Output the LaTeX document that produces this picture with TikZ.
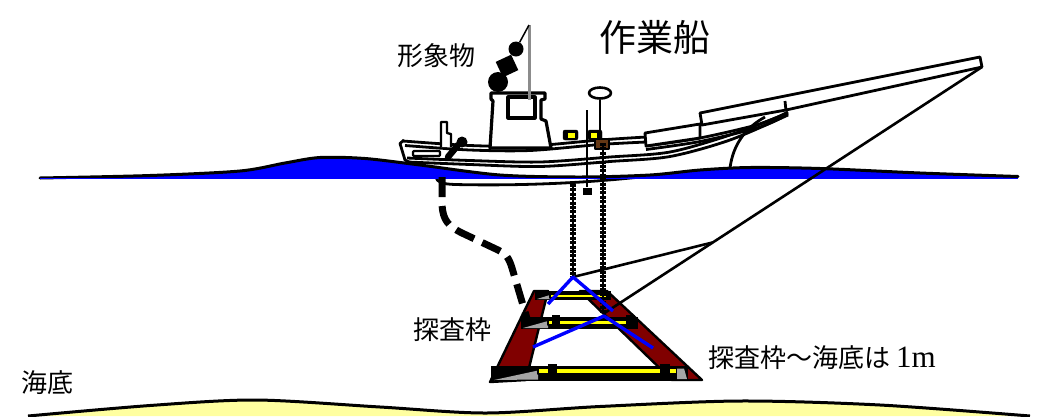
\documentclass[tikz,border=0pt]{standalone}
\usepackage{fontspec}
\newfontfamily\cjk{Noto Sans CJK JP}
\newfontfamily\serifL{Liberation Serif}
\usetikzlibrary{calc,shapes.geometric}
\definecolor{sea}{RGB}{0,0,255}
\definecolor{maroon}{RGB}{128,0,0}
\definecolor{sand}{RGB}{255,255,160}
\definecolor{tube}{RGB}{255,255,0}
\definecolor{wedge}{RGB}{165,165,165}
\definecolor{winch}{RGB}{100,55,20}
\definecolor{mastgray}{RGB}{140,140,140}
\begin{document}
\begin{tikzpicture}[x=1pt,y=-1pt,line join=round,
  hl/.style={draw=black,line width=2.8pt},
  thin/.style={draw=black,line width=2.3pt},
  chainbead/.style={draw=black,line width=5.4pt,dash pattern=on 3pt off 1.4pt},
  chaincore/.style={draw=black,line width=2pt},
  rope/.style={draw=black,line width=2.6pt},
  bridle/.style={draw=sea,line width=3.4pt},
  cable/.style={draw=black,line width=7pt,dash pattern=on 20pt off 9pt},
  lab/.style={font=\cjk\fontsize{26}{28}\selectfont,inner sep=0pt},
  ball/.style={circle,fill=black,inner sep=0pt},
]
\useasboundingbox (0,0) rectangle (1052,416);

% ---------- seabed ----------
\fill[sand] plot[smooth] coordinates {(28,416) (150,405.5) (256,400) (380,407) (486,413) (600,406.5) (740,401) (880,405) (1030,416)} -- cycle;
\draw[line width=3pt] plot[smooth] coordinates {(28,416) (150,405.5) (256,400) (380,407) (486,413) (600,406.5) (740,401) (880,405) (1030,416)};

% ---------- hull lines ----------
\draw[hl] plot[smooth] coordinates {(403,141) (470,145.5) (530,146) (600,140) (646,137)};
\draw[hl] plot[smooth] coordinates {(405,145.5) (470,150) (530,150.5) (600,144.5) (646,142)};
\draw[hl] plot[smooth] coordinates {(646,146) (700,138) (760,124) (788,112)};
\draw[hl] plot[smooth] coordinates {(646,149.5) (700,141.5) (760,127) (788,114)};
\draw[hl] plot[smooth] coordinates {(407,158) (470,160.5) (540,162) (610,157) (670,152) (730,135) (788,113)};
\draw[hl] plot[smooth] coordinates {(408,162) (470,164.5) (540,166.5) (610,161.5) (670,156.5) (730,140) (788,115)};
% stern
\draw[hl] (404,140) -- (400,143.5) -- (405,160) -- (409,162);
\draw[thin,fill=white,rounded corners=1pt] (413,151) rectangle (440,156);
\draw[thin,fill=white] (441,147) -- (441,122) -- (447,122) -- (447,133) -- (451,134) -- (451,147);
\draw[line width=6.5pt,line cap=round] (448,157) -- (458,145);
\fill (462,142) circle (5.5pt);
% forecastle box
\draw[hl,fill=white] (645,133) -- (700,124) -- (700,138) -- (646,146) -- cycle;
% bow bulwark strip
\draw[hl,fill=white] (700,113) -- (980,57) -- (982,67) -- (786,110) -- (702,125) -- cycle;
\draw[hl] (785,101) -- (786,111);
% bow flare
\draw[hl] (765,117) .. controls (745,128) and (733,145) .. (730,168);
% keel under water
\draw[hl] (436,177) .. controls (437,182) and (441,184) .. (455,184.5) .. controls (520,186) and (585,183) .. (640,177);

% wheelhouse
\draw[line width=3.2pt,fill=white] (490,148) -- (493,101) -- (491,99) -- (491,93) -- (545,93) -- (545,99) -- (541,100) -- (541,119) -- (546,121) -- (551,148) -- cycle;
\draw[line width=3.2pt,fill=white] (508,97) rectangle (535,118);

% mast and day shapes
\coordinate (masttop) at (529,25);
\coordinate (mastfoot) at (529,100);
\draw[mastgray,line width=3pt] (masttop) -- (mastfoot);
\node[ball,minimum size=15pt] (balltop) at (516,49) {};
\draw[line width=1.5pt] (masttop) -- (balltop);
\node[fill=black,minimum size=17pt,inner sep=0pt,rotate=25] (diamond) at (507,66) {};
\node[ball,minimum size=20pt] (ballbottom) at (498,82) {};

% pole with transducer
\coordinate (poletop) at (587,110);
\node[fill=black,minimum width=9pt,minimum height=7pt,inner sep=0pt] (sensor) at (587,191) {};
\draw[thin] (poletop) -- (sensor);

% small mast with ring
\node[draw=black,line width=2.6pt,fill=white,ellipse,minimum width=22pt,minimum height=11pt,inner sep=0pt] (ring) at (600,93) {};
\coordinate (ringfoot) at (600,134);
\draw[hl] (ring) -- (ringfoot);

% lights and winch
\draw[fill=black,rounded corners=2pt] (563,130) rectangle (578,140);
\fill[tube] (567.5,133) rectangle (574.5,137.5);
\draw[fill=black,rounded corners=2pt] (588,130) rectangle (602,140);
\fill[tube] (591,133) rectangle (597,137.5);
\draw[fill=winch,line width=1.4pt] (595,139) rectangle (609,149);

% ---------- water ----------
\fill[sea] plot[smooth] coordinates {(40,178) (150,175.5) (240,171) (285,163) (320,157.5) (365,158.5) (420,165) (500,175) (580,177) (650,175) (700,170) (750,167.5) (820,168.5) (920,173) (1018,176.5)} -- (1018,178) -- (40,178) -- cycle;
\draw[line width=3pt,line cap=round] plot[smooth] coordinates {(40,178) (150,175.5) (240,171) (285,163) (320,157.5) (365,158.5) (420,165) (500,175) (580,177) (650,175) (700,170) (750,167.5) (820,168.5) (920,173) (1018,176.5)};
\draw[sea,line width=1.4pt] (40,178.4) -- (1018,178.4);

% ---------- survey frame ----------
\draw[fill=maroon,line width=2.4pt] (534,291) -- (548,291) -- (526,380) -- (490,382) -- cycle;
\draw[fill=maroon,line width=2.4pt] (580,291) -- (607,291) -- (702,380) -- (672,380) -- cycle;
\fill[black] (535,291) rectangle (611,300);
\fill[wedge] (537,299) -- (550,295) -- (550,299) -- cycle;
\draw[fill=tube,line width=1.2pt] (550,294) rectangle (607,298);
\fill[black] (521,317) rectangle (638,329);
\fill[wedge] (523,328) -- (548,321) -- (548,328) -- cycle;
\draw[fill=tube,line width=1.2pt] (548,320) rectangle (633,325);
\fill (552,315) rectangle (560,328);
\fill (626,315) rectangle (635,328);
\fill[black] (491,366) rectangle (688,381);
\fill[wedge] (494,380) -- (538,370.5) -- (538,379.5) -- cycle;
\draw[fill=tube,line width=1.2pt] (538,368) rectangle (677,374);
\fill[wedge] (677,368.5) -- (684,368.5) -- (687,379) -- (677,379) -- cycle;
\fill (548,364) rectangle (557,378);
\fill (660,364) rectangle (670,378);

% ---------- suspension ----------
\coordinate (bow) at (982,67);
\coordinate (apex1) at (573,277);
\coordinate (apex2) at (603,314);
\coordinate (bridlept) at ($(bow)!0.71!(apex2)$);
\coordinate (chain1top) at (573,184);
\coordinate (chain2top) at (603,143);
\draw[chaincore] (chain1top) -- (apex1);
\draw[chainbead] (chain1top) -- (apex1);
\draw[chaincore] (chain2top) -- (apex2);
\draw[chainbead] (chain2top) -- (apex2);
\draw[rope] (bow) -- (apex2);
\draw[rope] (bridlept) -- (apex1);

\coordinate (b1l) at (548,304);
\coordinate (b1r) at (613,311);
\coordinate (b2l) at (533,347);
\coordinate (b2r) at (653,348);
\draw[bridle] (b1l) -- (apex1) -- (b1r);
\draw[bridle] (b2l) -- (604,316) -- (b2r);

\coordinate (cablestart) at (442,177);
\coordinate (cableend) at (528,322);
\draw[cable] (cablestart) -- (442,205) .. controls (443,220) and (448,226) .. (462,233) -- (498,250) .. controls (506,254) and (509,258) .. (512,268) -- (cableend);

% ---------- labels ----------
\node[font=\cjk\fontsize{37}{40}\selectfont,inner sep=0pt] (title) at (655,37) {作業船};
\node[lab] (shapes) at (436,56) {形象物};
\node[lab] (framelabel) at (452,330) {探査枠};
\node[lab,anchor=west] (gaplabel) at (708,358) {探査枠～海底は {\serifL\fontsize{31}{33}\selectfont 1m}};
\node[lab] (seabedlabel) at (47,383) {海底};
\end{tikzpicture}
\end{document}
